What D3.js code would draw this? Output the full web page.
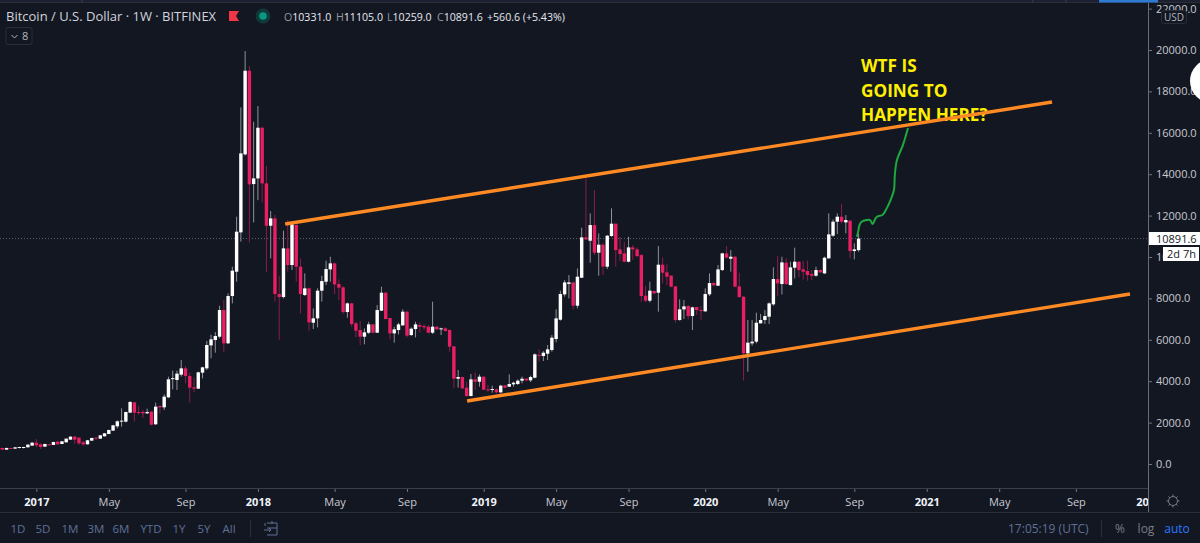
<!DOCTYPE html>
<html>
<head>
<meta charset="utf-8">
<script src="https://cdnjs.cloudflare.com/ajax/libs/d3/7.8.5/d3.min.js"></script>
<style>
  html, body { margin: 0; padding: 0; background: #131722; overflow: hidden; }
  svg { display: block; font-family: "Open Sans", sans-serif; }
  .axis .domain { display: none; }
</style>
</head>
<body>
<svg id="chart" width="1200" height="543"></svg>
<script>
  // weekly candles, bar 0 = 7 Nov 2016, last bar = 14 Sep 2020
  var opens = [774,693,774,742,790,790,806,886,1031,951,838,951,919,1080,967,1047,1176,1321,1273,1047,
    951,1128,1273,1224,1337,1450,1611,1820,2046,2046,2480,2979,2512,2512,2448,2529,1917,2802,2738,3221,
    4106,4058,4316,4621,4251,3704,3640,4412,4621,5732,5990,6150,7438,5829,8114,9290,11190,14957,18998,13524,
    13797,16245,13556,11511,11865,8211,8066,10416,9612,11544,9531,8163,8485,6826,7036,8372,8807,9402,9692,8694,
    8533,7341,7760,6794,6472,6150,6343,6746,6343,7406,8275,7052,6311,6472,6697,7358,6230,6520,6713,6665,
    6633,6343,6633,6504,6552,6472,5683,4121,4202,3687,3284,4089,3976,4218,3606,3590,3606,3461,3800,3735,
    3848,3864,4025,4121,4041,4170,5265,5216,5329,5506,6037,6971,8195,8700,8774,7647,8999,10948,10787,11543,
    10207,10594,9531,11012,11608,10368,10175,9772,10465,10368,10094,8130,7889,8356,8275,9628,9257,9096,8581,6955,
    7470,7631,7148,7583,7438,7374,8195,8742,8613,9370,10175,9917,10014,8581,8082,5345,5828,5909,6794,6955,
    7116,7712,8935,8694,9724,8646,9483,9772,9402,9322,9177,9096,9370,9209,9933,11028,11705,11946,11672,11753,
    10288,10331];
  var highs = [790,790,785,815,830,830,950,1050,1208,999,980,970,1075,1112,1110,1240,1340,1353,1290,1112,
    1160,1270,1290,1400,1500,1660,1890,2110,2690,2530,3044,3000,2802,2609,2673,2540,2963,2830,3366,4219,
    4509,4509,5024,4734,4412,4171,4460,4700,5942,6248,6376,7647,7921,8243,9531,11946,17227,19948,19223,16534,
    17291,16300,14393,12220,12027,9096,11270,11785,11650,11600,9933,9209,8530,7518,8485,9096,9821,10014,9730,8919,
    8597,7800,7790,6874,6907,6552,6874,6760,7680,8565,8323,7060,6633,6826,7470,7406,6600,6874,6842,6762,
    6713,7840,6665,6584,6601,6504,5700,4540,4218,3976,4347,4427,4331,4230,3816,3783,3638,3832,3816,4331,
    3976,4089,4218,4154,4266,5345,5538,5458,5747,6230,7470,8372,8887,9129,8790,9450,11415,13797,12107,13234,
    11141,10658,11060,12349,11624,10980,10738,10980,10578,10465,10143,8597,8806,8372,10529,9982,9660,9129,8581,7953,
    7921,7679,7599,7599,7631,8484,9209,8806,9612,10207,10529,10336,10046,9241,8114,6955,6955,7309,7245,7438,
    7808,9499,10062,10014,9933,9772,10449,9805,9805,9821,9370,9530,9402,10014,12107,11817,12107,12558,12027,11785,
    10658,11105];
  var lows = [680,680,735,735,750,750,800,880,806,725,830,900,915,919,960,1040,1170,967,919,886,
    945,1120,1160,1215,1330,1440,1600,1723,1804,2010,2470,2046,2384,2223,2416,1852,1900,2432,2609,3190,
    3607,3575,4219,3897,2963,3478,3620,4138,4541,5105,5378,6070,5410,5800,7760,8807,10739,14900,10706,11672,
    12751,12638,9257,9934,7840,5990,8000,9290,9370,8807,7277,8114,6440,6520,6600,7840,8645,8807,8211,7921,
    7245,7068,6633,6118,5747,5780,6279,6311,6330,7390,6990,6021,5860,6263,6680,6118,6180,6118,6359,6472,
    6311,6279,6490,6230,6392,5425,3655,3687,3606,3252,3270,3574,3735,3574,3493,3445,3413,3413,3654,3720,
    3735,3816,3896,3993,3960,4138,4942,4975,5023,5425,5876,6923,8082,8001,7470,7518,8980,10820,9724,10095,
    9096,9129,9418,10980,9531,9821,9740,9740,9853,9982,7840,7808,7808,8210,7358,8726,8645,8533,6826,6923,
    7003,6987,6472,7197,6955,7358,8114,8613,8597,9322,9934,9290,8533,8034,4025,4459,5716,5828,6794,6762,
    6762,7647,8114,8195,8646,8614,8968,9016,8919,8855,8887,9048,9241,9177,9933,10980,11109,11624,11141,9933,
    9885,10259];
  var closes = [693,774,742,806,822,822,935,1031,903,822,967,919,1063,951,1096,1224,1321,1176,999,951,
    1144,1257,1224,1386,1482,1643,1868,2062,2094,2512,2995,2480,2480,2448,2512,1900,2770,2738,3253,4090,
    4148,4364,4621,4251,3688,3640,4428,4670,5748,6022,6183,7438,5829,8114,9338,11222,15005,18998,13508,13797,
    16245,13556,11511,11865,8211,8066,10416,9612,11576,9531,8211,8485,6843,7036,8372,8838,9418,9692,8677,8517,
    7341,7760,6762,6440,6150,6359,6746,6343,7438,8275,7003,6311,6504,6746,7358,6198,6536,6746,6633,6601,
    6343,6633,6504,6552,6424,5667,4121,4202,3654,3284,4089,3976,4218,3590,3574,3622,3461,3783,3687,3864,
    3928,4025,4121,4041,4202,5297,5216,5377,5538,6102,7035,8211,8774,8774,7647,9048,10948,10851,11543,10207,
    10594,9531,11028,11608,10336,10143,9772,10465,10368,10046,8114,7889,8372,8243,9628,9241,9048,8565,6955,7470,
    7615,7148,7567,7438,7406,8211,8742,8630,9402,10175,9966,10014,8565,8066,5345,5860,5909,6826,6955,7148,
    7760,8935,8726,9740,8694,9499,9772,9370,9290,9128,9096,9370,9257,9965,11093,11705,11946,11705,11785,10288,
    10368,10891.6];

  var priceTicks = [0,2000,4000,6000,8000,10000,12000,14000,16000,18000,20000,22000];
  var timeTickBars = [8,25,43,60,78,95,113,130,147,165,182,200,217,234,252,269];
  var timeTickLabels = ["2017","May","Sep","2018","May","Sep","2019","May","Sep","2020","May","Sep","2021","May","Sep","2022"];
  var rangeButtons = ["1D","5D","1M","3M","6M","YTD","1Y","5Y","All"];
  var lastPrice = 10891.6;
  var legend = [["O","10331.0"],["H","11105.0"],["L","10259.0"],["C","10891.6"]];
  var legendChange = "+560.6 (+5.43%)";

  // drawn on top of the candles: [bar, price]
  var upperChannel = [[66.4,11594],[246.4,17488]];
  var lowerChannel = [[109.1,3043],[264.7,8213]];
  var greenPath = [[200.6,10979],[200.9,11220],[201.2,11544],[201.7,11703],[202.9,11785],[203.7,11785],
    [204.3,11592],[205,11882],[205.6,11978],[206.6,12027],[207.6,12350],[208.5,12751],[209.3,13234],
    [209.5,13959],[210,14683],[211.4,15408],[212.6,16229]];

  var bg = "#131722", lineCol = "#2a2e39", upCol = "#ffffff", downCol = "#e91e63";
  var svg = d3.select("#chart");

  var x = d3.scaleLinear().domain([0,201]).range([2.3,858.6]);
  var y = d3.scaleLinear().domain([0,20000]).range([464,50]);

  svg.append("clipPath").attr("id","plot").append("rect")
    .attr("x",0).attr("y",3).attr("width",1148).attr("height",486);
  svg.append("clipPath").attr("id","timeClip").append("rect")
    .attr("x",0).attr("y",-2).attr("width",1148).attr("height",24);

  // top strip
  svg.append("rect").attr("x",0).attr("y",0).attr("width",1200).attr("height",2).attr("fill","#1c2030");
  svg.append("line").attr("x1",0).attr("x2",1200).attr("y1",2.5).attr("y2",2.5).attr("stroke",lineCol);
  svg.append("rect").attr("x",1099).attr("y",0).attr("width",59).attr("height",2.5).attr("fill","#2e7bd6");
  [82,1033,1066].forEach(function (d) {
    svg.append("line").attr("x1",d).attr("x2",d).attr("y1",0).attr("y2",2.5).attr("stroke","#3a3f4e");
  });

  var plot = svg.append("g").attr("clip-path","url(#plot)");

  // last price dotted line
  plot.append("line").attr("x1",0).attr("x2",1148)
    .attr("y1",y(lastPrice)).attr("y2",y(lastPrice))
    .attr("stroke","#5d606b").attr("stroke-dasharray","1 2").attr("stroke-width",1);

  var bars = d3.range(closes.length);
  var isUp = function (i) { return closes[i] >= opens[i]; };

  plot.selectAll("line.wick").data(bars).enter().append("line")
    .attr("class","wick")
    .attr("x1",function (i) { return x(i); }).attr("x2",function (i) { return x(i); })
    .attr("y1",function (i) { return y(highs[i]); }).attr("y2",function (i) { return y(lows[i]); })
    .attr("stroke",function (i) { return isUp(i) ? "#8f9298" : "#8a1c4c"; })
    .attr("stroke-width",1);

  plot.selectAll("rect.body").data(bars).enter().append("rect")
    .attr("class","body")
    .attr("x",function (i) { return x(i) - 1.7; })
    .attr("width",3.4)
    .attr("y",function (i) { return y(Math.max(opens[i],closes[i])); })
    .attr("height",function (i) { return Math.max(1, Math.abs(y(opens[i]) - y(closes[i]))); })
    .attr("fill",function (i) { return isUp(i) ? upCol : downCol; });

  // note
  var note = ["WTF IS","GOING TO","HAPPEN HERE?"];
  plot.selectAll("text.note").data(note).enter().append("text")
    .attr("class","note")
    .attr("x",861)
    .attr("y",function (d,i) { return 72 + i * 24.5; })
    .attr("fill","#fff000")
    .attr("font-family","Open Sans")
    .attr("font-weight",700)
    .attr("font-size",17.2)
    .text(function (d) { return d; });

  // channel lines
  var line = d3.line().x(function (d) { return x(d[0]); }).y(function (d) { return y(d[1]); });
  [upperChannel,lowerChannel].forEach(function (d) {
    plot.append("path").attr("d",line(d)).attr("fill","none")
      .attr("stroke","#ff8a24").attr("stroke-width",3.4);
  });
  plot.append("path").attr("d",line.curve(d3.curveCatmullRom)(greenPath)).attr("fill","none")
    .attr("stroke","#1fa83f").attr("stroke-width",2);

  // price axis
  var priceAxis = svg.append("g").attr("class","axis").attr("transform","translate(1148,0)")
    .call(d3.axisRight(y).tickValues(priceTicks).tickFormat(d3.format(".1f")).tickSize(4).tickPadding(4));
  priceAxis.selectAll("line").attr("stroke","#6f7380");
  priceAxis.selectAll("text").attr("fill","#c8cad2").attr("font-size",11).attr("font-family","Open Sans");

  svg.append("line").attr("x1",0).attr("x2",1148).attr("y1",488.5).attr("y2",488.5).attr("stroke","#3a3e4a");
  svg.append("line").attr("x1",1148.5).attr("x2",1148.5).attr("y1",3).attr("y2",512).attr("stroke","#6a6d78");
  svg.append("line").attr("x1",0).attr("x2",1200).attr("y1",512.5).attr("y2",512.5).attr("stroke",lineCol);

  // time axis
  var timeAxis = svg.append("g").attr("class","axis").attr("transform","translate(0,489)")
    .attr("clip-path","url(#timeClip)")
    .call(d3.axisBottom(x).tickValues(timeTickBars)
      .tickFormat(function (d,i) { return timeTickLabels[i]; }).tickSize(3).tickPadding(6));
  timeAxis.selectAll("line").attr("stroke","#6f7380");
  timeAxis.selectAll("text")
    .attr("fill",function (d,i) { return /^\d/.test(timeTickLabels[i]) ? "#f0f3fa" : "#c8cad2"; })
    .attr("font-weight",function (d,i) { return /^\d/.test(timeTickLabels[i]) ? 700 : 400; })
    .attr("font-size",11).attr("font-family","Open Sans");

  // header
  var head = svg.append("g").attr("font-family","Open Sans");
  head.append("text").attr("x",6).attr("y",21).attr("fill","#d1d4dc").attr("font-size",13)
    .text("Bitcoin / U.S. Dollar · 1W · BITFINEX");
  head.append("path").attr("d","M229 11H239L236 16L239 21H229Z").attr("fill","#f23645");
  head.append("circle").attr("cx",263).attr("cy",16).attr("r",7.5).attr("fill","#12393a");
  head.append("circle").attr("cx",263).attr("cy",16).attr("r",3.8).attr("fill","#089981");
  var legendX = [284,336,387,437];
  var ohlc = head.append("text").attr("y",21).attr("font-size",10.6).attr("fill","#e8eaf0");
  legend.forEach(function (d,i) {
    ohlc.append("tspan").attr("x",legendX[i]).attr("fill","#9598a1").text(d[0]);
    ohlc.append("tspan").text(d[1]);
  });
  ohlc.append("tspan").attr("x",487).text(legendChange);

  svg.append("rect").attr("x",6).attr("y",27.5).attr("width",26).attr("height",17).attr("rx",2)
    .attr("fill",bg).attr("stroke",lineCol);
  svg.append("path").attr("d","M11.5 35L14.5 38L17.5 35").attr("fill","none").attr("stroke","#b2b5be");
  svg.append("text").attr("x",22).attr("y",40).attr("fill","#b2b5be").attr("font-size",11).text("8");

  // right side widgets
  svg.append("rect").attr("x",1161.5).attr("y",10.5).attr("width",25).attr("height",13).attr("rx",2)
    .attr("fill",bg).attr("stroke",lineCol);
  svg.append("text").attr("x",1174).attr("y",21).attr("text-anchor","middle")
    .attr("fill","#b2b5be").attr("font-size",10).text("USD");
  svg.append("circle").attr("cx",1212).attr("cy",81).attr("r",22).attr("fill","#fff");

  svg.append("rect").attr("x",1149).attr("y",232).attr("width",51).attr("height",13).attr("fill","#fff");
  svg.append("text").attr("x",1156).attr("y",242.5).attr("fill","#131722").attr("font-size",11).text(d3.format(".1f")(lastPrice));
  svg.append("rect").attr("x",1163).attr("y",247).attr("width",36).attr("height",14).attr("fill","#fff");
  svg.append("text").attr("x",1167).attr("y",258).attr("fill","#131722").attr("font-size",11).text("2d 7h");

  // gear
  var gear = svg.append("g").attr("transform","translate(1173,501)").attr("stroke","#787b86").attr("fill","none");
  gear.append("circle").attr("r",4.5);
  d3.range(8).forEach(function (i) {
    var a = i * Math.PI / 4;
    gear.append("line").attr("x1",4.5*Math.cos(a)).attr("y1",4.5*Math.sin(a))
      .attr("x2",6.5*Math.cos(a)).attr("y2",6.5*Math.sin(a));
  });

  // bottom toolbar
  var btnX = [18,43,70,96,121,151,179,204,229];
  svg.selectAll("text.btn").data(rangeButtons).enter().append("text")
    .attr("class","btn")
    .attr("x",function (d,i) { return btnX[i]; }).attr("y",533)
    .attr("text-anchor","middle").attr("fill","#5f7196").attr("font-size",11.5)
    .text(function (d) { return d; });
  svg.append("line").attr("x1",250.5).attr("x2",250.5).attr("y1",520).attr("y2",537).attr("stroke",lineCol);
  svg.append("path").attr("d","M267 523H277V535H267M265 523V526M272 521V524M267 528H277M264 530H271M269 528L271 530L269 532")
    .attr("fill","none").attr("stroke","#5f7196");
  svg.append("text").attr("x",1008).attr("y",533).attr("fill","#5f7196").attr("font-size",12).text("17:05:19 (UTC)");
  svg.append("line").attr("x1",1101.5).attr("x2",1101.5).attr("y1",520).attr("y2",537).attr("stroke",lineCol);
  svg.append("text").attr("x",1120).attr("y",533).attr("text-anchor","middle").attr("fill","#787b86").attr("font-size",12).text("%");
  svg.append("text").attr("x",1146).attr("y",533).attr("text-anchor","middle").attr("fill","#787b86").attr("font-size",12).text("log");
  svg.append("text").attr("x",1177).attr("y",533).attr("text-anchor","middle").attr("fill","#2979ff").attr("font-size",12).text("auto");
</script>
</body>
</html>
